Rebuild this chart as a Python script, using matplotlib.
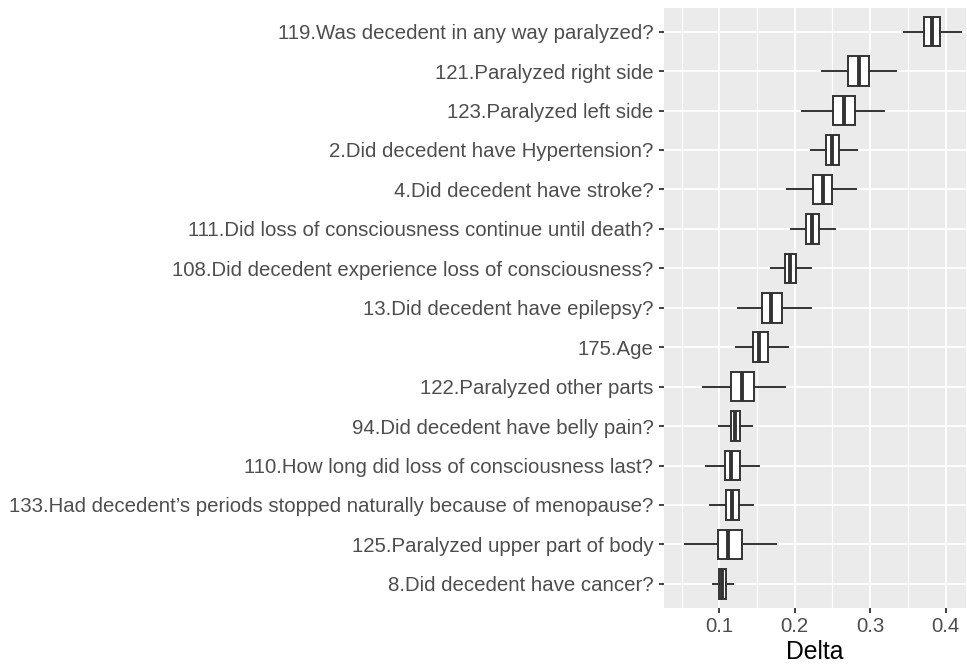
import matplotlib
matplotlib.use("Agg")
import matplotlib.pyplot as plt
from matplotlib.ticker import MultipleLocator

plt.rcParams["font.family"] = ["Liberation Sans", "DejaVu Sans"]

# categories listed top to bottom
labels = [
    "119.Was decedent in any way paralyzed?",
    "121.Paralyzed right side",
    "123.Paralyzed left side",
    "2.Did decedent have Hypertension?",
    "4.Did decedent have stroke?",
    "111.Did loss of consciousness continue until death?",
    "108.Did decedent experience loss of consciousness?",
    "13.Did decedent have epilepsy?",
    "175.Age",
    "122.Paralyzed other parts",
    "94.Did decedent have belly pain?",
    "110.How long did loss of consciousness last?",
    "133.Had decedent\u2019s periods stopped naturally because of menopause?",
    "125.Paralyzed upper part of body",
    "8.Did decedent have cancer?",
]

whisker_low = [0.345, 0.236, 0.210, 0.221, 0.190, 0.195, 0.168, 0.125,
               0.122, 0.078, 0.099, 0.083, 0.088, 0.055, 0.091]
q1 = [0.371, 0.271, 0.251, 0.241, 0.224, 0.215, 0.187, 0.156,
      0.145, 0.116, 0.115, 0.107, 0.109, 0.098, 0.0996]
median = [0.382, 0.285, 0.265, 0.250, 0.237, 0.223, 0.194, 0.169,
          0.153, 0.130, 0.121, 0.1155, 0.117, 0.112, 0.104]
q3 = [0.393, 0.299, 0.280, 0.259, 0.249, 0.232, 0.202, 0.183,
      0.164, 0.146, 0.127, 0.127, 0.126, 0.130, 0.109]
whisker_high = [0.420, 0.334, 0.318, 0.283, 0.281, 0.254, 0.221, 0.222,
                0.191, 0.187, 0.143, 0.152, 0.145, 0.175, 0.118]

x_ticks = [0.1, 0.2, 0.3, 0.4]

W, H = 967, 670
fig = plt.figure(figsize=(W / 100, H / 100), dpi=100)
ax = fig.add_axes([664 / W, (H - 607.5) / H, (966 - 664) / W, (607.5 - 8) / H])

n = len(labels)
positions = [n - i for i in range(n)]
stats = []
for i in range(n):
    stats.append(dict(whislo=whisker_low[i], q1=q1[i], med=median[i],
                      q3=q3[i], whishi=whisker_high[i], fliers=[]))

dark = "#333333"
ax.bxp(
    stats,
    positions=positions,
    widths=0.75,
    orientation="horizontal",
    showcaps=False,
    showfliers=False,
    patch_artist=True,
    boxprops=dict(facecolor="white", edgecolor=dark, linewidth=1.4),
    whiskerprops=dict(color=dark, linewidth=1.4),
    medianprops=dict(color=dark, linewidth=2.8, solid_capstyle="butt"),
)

ax.set_facecolor("#EBEBEB")
for s in ax.spines.values():
    s.set_visible(False)

ax.set_xlim(0.0267, 0.427)
ax.set_ylim(0.4, n + 0.6)
ax.xaxis.set_minor_locator(MultipleLocator(0.05))
ax.set_xticks(x_ticks)
ax.set_xticklabels([f"{t:.1f}" for t in x_ticks])
ax.set_yticks(positions)
ax.set_yticklabels(labels)

ax.grid(which="major", color="white", linewidth=1.3)
ax.grid(which="minor", axis="x", color="white", linewidth=0.8)
ax.set_axisbelow(True)

ax.tick_params(axis="both", which="major", length=3.6, width=1.3, color=dark,
               labelcolor="#4D4D4D", labelsize=14.7)
ax.tick_params(axis="y", pad=4)
ax.tick_params(axis="x", pad=3)
ax.tick_params(which="minor", length=0)

ax.set_xlabel("Delta", fontsize=17.8, color="black", labelpad=3)

fig.savefig("out.png", dpi=100)
